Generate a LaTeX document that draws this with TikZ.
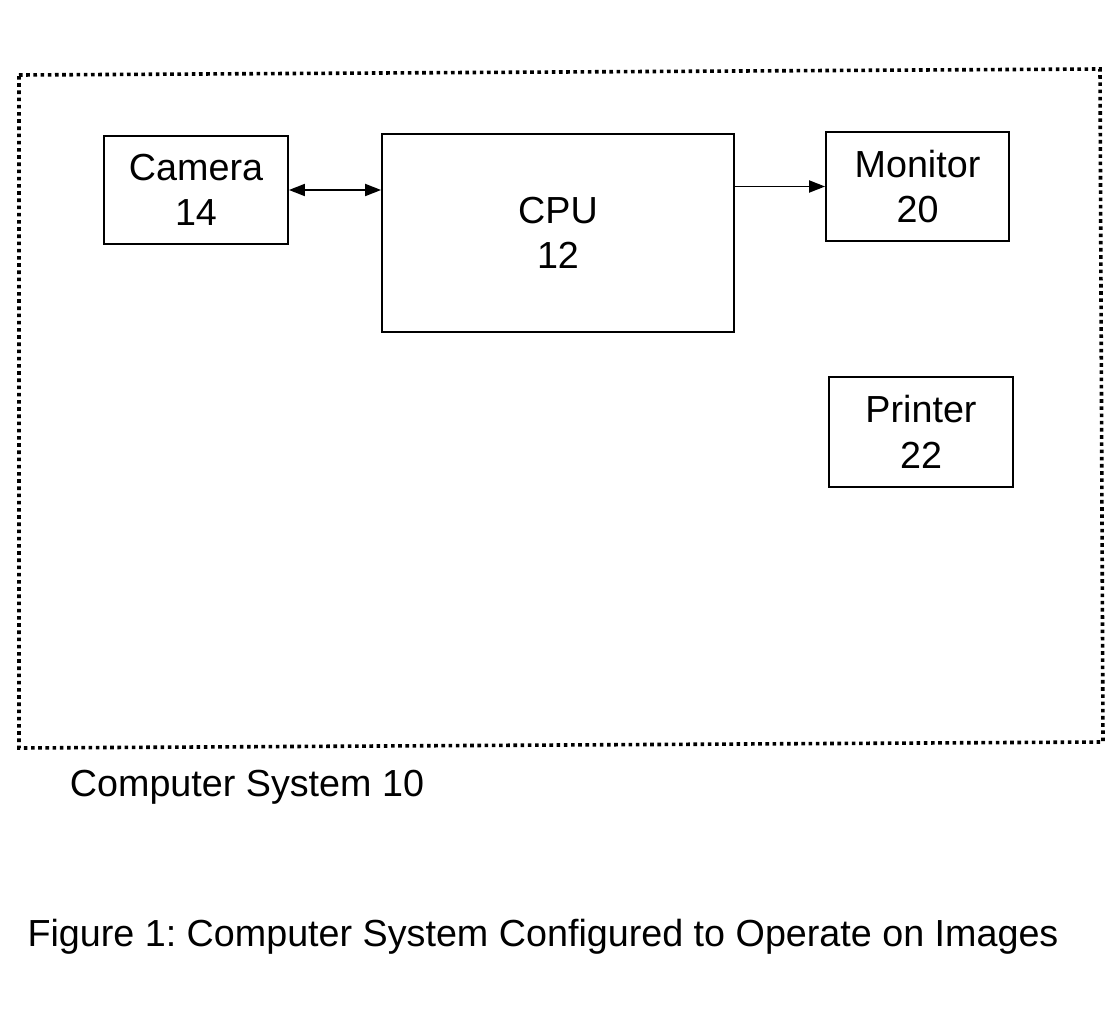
\documentclass[tikz,border=0pt]{standalone}
\usepackage{fontspec}
\setmainfont{Liberation Sans}
\usetikzlibrary{arrows.meta}
\begin{document}
\frenchspacing
\begin{tikzpicture}[x=1pt,y=-1pt,
  box/.style={draw,line width=1.8pt,inner sep=0pt,align=center,
    font=\fontsize{37.7}{45.5}\selectfont},
  lbl/.style={inner sep=0pt,font=\fontsize{37.7}{45.5}\selectfont},
  conn/.style={line width=1.8pt,-{Triangle[length=16pt,width=12pt]}},
  border/.style={line width=3.6pt,dash pattern=on 3.6pt off 3.6pt}]
\useasboundingbox (0,0) rectangle (1114,1011);
\draw[border] (19,75) -- (1100,69) -- (1103,742) -- (19,748) -- cycle;
\node[box,minimum width=184pt,minimum height=108pt] (camera) at (196,190) {Camera\\14};
\node[box,minimum width=352pt,minimum height=198pt] (cpu) at (558,233) {CPU\\12};
\node[box,minimum width=183pt,minimum height=109pt] (monitor) at (917.5,186.5) {Monitor\\20};
\node[box,minimum width=184pt,minimum height=110pt] (printer) at (921,432) {Printer\\22};
\draw[conn,{Triangle[length=16pt,width=12pt]}-{Triangle[length=16pt,width=12pt]}] (camera.east) -- (cpu.west |- camera.east);
\draw[conn] (cpu.east |- monitor.west) -- (monitor.west);
\node[lbl] (syslabel) at (247,787) {Computer System 10};
\node[lbl] (caption) at (543,937) {Figure 1: Computer System Configured to Operate on Images};
\end{tikzpicture}
\end{document}
